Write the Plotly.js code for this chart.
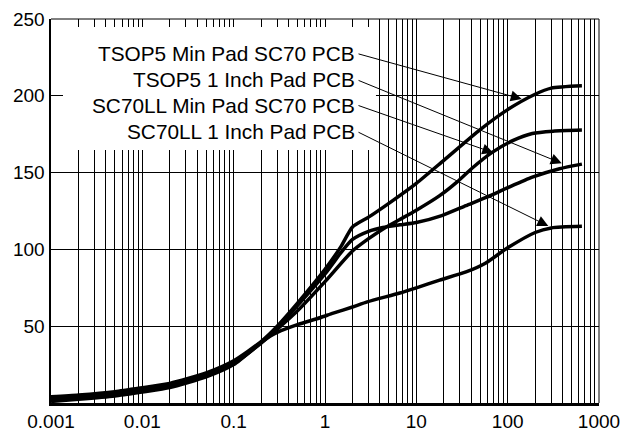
<!DOCTYPE html>
<html>
<head>
<meta charset="utf-8">
<script src="https://cdn.plot.ly/plotly-3.0.1.min.js"></script>
<style>html,body{margin:0;padding:0;background:#fff;}#chart{width:623px;height:431px;}</style>
</head>
<body>
<div id="chart"></div>
<script>
// ---- data ----
var seriesNames = ["TSOP5 Min Pad SC70 PCB", "TSOP5 1 Inch Pad PCB", "SC70LL Min Pad SC70 PCB", "SC70LL 1 Inch Pad PCB"];

var xTsop5Min = [0.001,0.002,0.005,0.01,0.02,0.05,0.1,0.2,0.3,0.5,1,1.5,2,3,5,10,20,50,100,200,300,650];
var yTsop5Min = [4,5.2,7.4,10,12.8,19.6,27.5,40,50,65,87,102,114.6,121,130,143,158,178,191,201,205,206.5];

var xTsop5Inch = [0.001,0.002,0.005,0.01,0.02,0.05,0.1,0.2,0.3,0.5,1,1.5,2,3,4.3,6.6,10,19,35,59,99,186,370,650];
var yTsop5Inch = [3,4.2,6.4,9,11.8,18.6,26.6,39.5,49.5,63.5,84,98,106.5,111.8,114.3,116,117.5,122,128.5,134,140,147,152.5,155.5];

var xSc70Min = [0.001,0.002,0.005,0.01,0.02,0.05,0.1,0.2,0.3,0.5,1,2,3,4.5,6.6,10,18,28,41,67,115,186,314,650];
var ySc70Min = [2,3.2,5.4,8,10.8,17.6,25.6,39,48,60,79,99,107,114,119.5,125.5,135,144,153,163,171,175.5,177,177.7];

var xSc70Inch = [0.001,0.002,0.005,0.01,0.02,0.05,0.1,0.2,0.25,0.3,0.5,0.88,1.23,2,2.9,6.6,10,18,35,57,100,200,300,650];
var ySc70Inch = [1,2.4,4.6,7.2,10,17,25,39.5,43.5,46,51,55.5,58.5,62.5,65.8,71.6,75,80,85.3,91,101,111,114,115];

var xTickVals = [0.001,0.01,0.1,1,10,100,1000];
var xTickText = ["0.001","0.01","0.1","1","10","100","1000"];
var yTickVals = [50,100,150,200,250];
var yTickText = ["50","100","150","200","250"];

// minor grid (2..9 in each decade)
var minorVals = [];
for (var d = -3; d < 3; d++) {
  for (var m = 2; m <= 9; m++) minorVals.push(m * Math.pow(10, d));
}

var font = "Arial, 'Liberation Sans', Helvetica, sans-serif";

function curve(x, y) {
  return {x: x, y: y, type: 'scatter', mode: 'lines',
          line: {color: '#000', width: 3.5, shape: 'spline', smoothing: 0.6},
          hoverinfo: 'skip'};
}

var traces = [
  curve(xTsop5Min, yTsop5Min),
  curve(xTsop5Inch, yTsop5Inch),
  curve(xSc70Min, ySc70Min),
  curve(xSc70Inch, ySc70Inch)
];

// label text positions (paper) and arrow tips (paper) with tail offsets (px)
var labelY = [0.9089, 0.8424, 0.776, 0.707];
var tips = [
  {x: 0.859, y: 0.7917, ax: -164.7, ay: -45.5},
  {x: 0.932, y: 0.6242, ax: -204.7, ay: -83.5},
  {x: 0.8071, y: 0.6518, ax: -136.3, ay: -47.7},
  {x: 0.9075, y: 0.4609, ax: -191.3, ay: -94.5}
];

var annotations = [];
seriesNames.forEach(function (name, i) {
  annotations.push({
    text: name, xref: 'paper', yref: 'paper', x: 0.558, y: labelY[i],
    xanchor: 'right', yanchor: 'middle', showarrow: false,
    font: {family: font, size: 20.8, color: '#000'}
  });
  annotations.push({
    text: '', xref: 'paper', yref: 'paper', x: tips[i].x, y: tips[i].y,
    axref: 'pixel', ayref: 'pixel', ax: tips[i].ax, ay: tips[i].ay,
    showarrow: true, arrowhead: 2, arrowsize: 2.2, arrowwidth: 1, arrowcolor: '#000',
    standoff: 0, startstandoff: 0
  });
});

var layout = {
  width: 623, height: 431,
  margin: {l: 51, r: 24, t: 19, b: 28, pad: 0},
  paper_bgcolor: '#fff', plot_bgcolor: '#fff',
  showlegend: false,
  font: {family: font, size: 19, color: '#000'},
  xaxis: {
    type: 'log', range: [-3, 3],
    tickmode: 'array', tickvals: xTickVals, ticktext: xTickText,
    showgrid: true, gridcolor: '#000', gridwidth: 1,
    minor: {tickmode: 'array', tickvals: minorVals, showgrid: true, gridcolor: '#000', gridwidth: 1, ticks: ''},
    showline: true, linecolor: '#000', linewidth: 2.5,
    ticks: '', zeroline: false,
    tickfont: {family: font, size: 19, color: '#000'}
  },
  yaxis: {
    range: [0, 250],
    tickmode: 'array', tickvals: yTickVals, ticktext: yTickText,
    showgrid: true, gridcolor: '#000', gridwidth: 1,
    showline: true, linecolor: '#000', linewidth: 2.5,
    ticks: '', zeroline: false,
    tickfont: {family: font, size: 19, color: '#000'}
  },
  shapes: [
    {type: 'rect', xref: 'paper', yref: 'paper', x0: 0.0219, x1: 0.593, y0: 0.659, y1: 0.979,
     fillcolor: '#fff', line: {width: 0}, layer: 'above'},
    {type: 'line', xref: 'paper', yref: 'paper', x0: 0, x1: 1, y0: 1, y1: 1, line: {color: '#000', width: 1}},
    {type: 'line', xref: 'paper', yref: 'paper', x0: 1, x1: 1, y0: 0, y1: 1, line: {color: '#000', width: 1}}
  ],
  annotations: annotations
};

Plotly.newPlot('chart', traces, layout, {staticPlot: true, displayModeBar: false});
</script>
</body>
</html>
